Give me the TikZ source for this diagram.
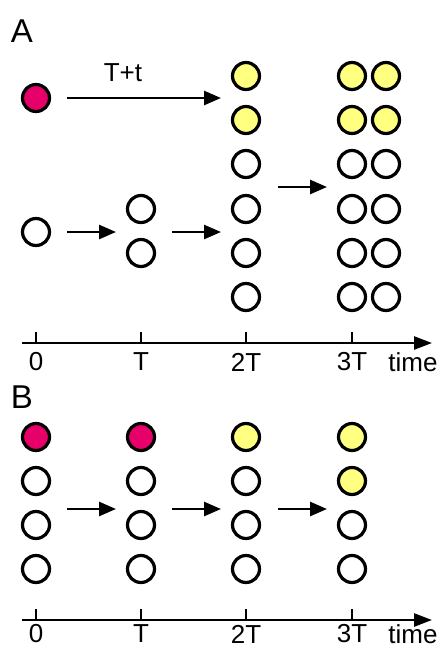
\documentclass[tikz,border=0pt]{standalone}
\usepackage{fontspec}
\setmainfont{Liberation Sans}
\usetikzlibrary{arrows.meta}
\definecolor{cred}{HTML}{E8006A}
\definecolor{cyel}{HTML}{FFFF80}
\begin{document}
\begin{tikzpicture}[x=1pt,y=-1pt,
  cell/.style={circle,draw=black,line width=3.2pt,minimum size=27pt,inner sep=0pt,fill=white},
  redc/.style={cell,fill=cred},
  yelc/.style={cell,fill=cyel},
  arr/.style={line width=2.6pt,-{Triangle[length=17pt,width=14pt]}},
  axis/.style={line width=2.6pt,-{Triangle[length=18pt,width=13pt]}},
  tick/.style={line width=2.4pt},
  lbl/.style={font=\fontsize{26}{26}\selectfont,inner sep=0pt},
  panel/.style={font=\fontsize{33}{33}\selectfont,inner sep=0pt}]
\useasboundingbox (0,0) rectangle (441,649);
% Panel A
\node[panel] (pA) at (22,31) {A};
\node[redc] (a0r) at (36,98) {};
\node[cell] (a0w) at (36,232) {};
\node[cell] (aT1) at (141,209) {};
\node[cell] (aT2) at (141,253) {};
\foreach \i/\y in {1/76,2/120} {
  \node[yelc] (a2\i) at (246,\y) {};
  \node[yelc] (a3l\i) at (352,\y) {};
  \node[yelc] (a3r\i) at (386,\y) {};
}
\foreach \i/\y in {3/164,4/209,5/253,6/297} {
  \node[cell] (a2\i) at (246,\y) {};
  \node[cell] (a3l\i) at (352,\y) {};
  \node[cell] (a3r\i) at (386,\y) {};
}
\coordinate (aa1s) at (67,98);  \coordinate (aa1e) at (221,98);
\draw[arr] (aa1s) -- (aa1e);
\node[lbl] (tpt) at (123,73) {T+t};
\coordinate (aa2s) at (67,232);  \coordinate (aa2e) at (116,232);
\draw[arr] (aa2s) -- (aa2e);
\coordinate (aa3s) at (172,232);  \coordinate (aa3e) at (221,232);
\draw[arr] (aa3s) -- (aa3e);
\coordinate (aa4s) at (278,187);  \coordinate (aa4e) at (327,187);
\draw[arr] (aa4s) -- (aa4e);
% Axis A
\coordinate (axAs) at (22,343); \coordinate (axAe) at (432,343);
\draw[axis] (axAs) -- (axAe);
\foreach \x/\t/\n in {36/0/a, 141/T/b, 246/2T/c, 352/3T/d} {
  \draw[tick] (\x,332) -- (\x,343);
  \node[lbl] (axA\n) at (\x,362) {\t};
}
\node[lbl] (axAtime) at (413,362) {time};
% Panel B
\node[panel] (pB) at (22,397) {B};
\node[redc] (b01) at (36,437) {};
\node[redc] (bT1) at (141,437) {};
\node[yelc] (b21) at (246,437) {};
\node[yelc] (b31) at (352,437) {};
\node[yelc] (b32) at (352,481) {};
\foreach \i/\y in {2/481,3/525,4/569} {
  \node[cell] (b0\i) at (36,\y) {};
  \node[cell] (bT\i) at (141,\y) {};
  \node[cell] (b2\i) at (246,\y) {};
}
\node[cell] (b33) at (352,525) {};
\node[cell] (b34) at (352,569) {};
\coordinate (ba1s) at (67,509);  \coordinate (ba1e) at (116,509);
\draw[arr] (ba1s) -- (ba1e);
\coordinate (ba2s) at (172,509);  \coordinate (ba2e) at (221,509);
\draw[arr] (ba2s) -- (ba2e);
\coordinate (ba3s) at (278,509);  \coordinate (ba3e) at (327,509);
\draw[arr] (ba3s) -- (ba3e);
% Axis B
\coordinate (axBs) at (22,620); \coordinate (axBe) at (432,620);
\draw[axis] (axBs) -- (axBe);
\foreach \x/\t/\n in {36/0/a, 141/T/b, 246/2T/c, 352/3T/d} {
  \draw[tick] (\x,609) -- (\x,620);
  \node[lbl] (axB\n) at (\x,634) {\t};
}
\node[lbl] (axBtime) at (413,634) {time};
\end{tikzpicture}
\end{document}
